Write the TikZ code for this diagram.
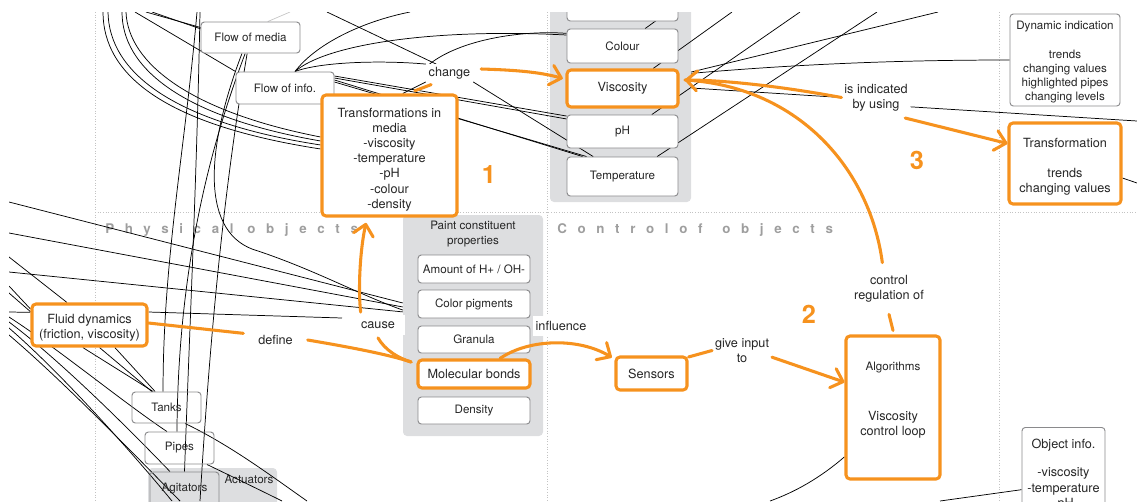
\documentclass[tikz,border=0pt]{standalone}
\usepackage{fontspec}
\setmainfont{TeX Gyre Heros}
\usetikzlibrary{arrows.meta}

\definecolor{hl}{RGB}{246,146,30}
\definecolor{boxline}{RGB}{138,138,140}
\definecolor{panelgrey}{RGB}{221,222,224}
\definecolor{ink}{RGB}{38,38,38}
\definecolor{gridgrey}{RGB}{195,195,195}
\definecolor{sectgrey}{RGB}{158,158,158}
\definecolor{faint}{RGB}{195,195,195}

\pgfdeclarelayer{bg}
\pgfdeclarelayer{links}
\pgfsetlayers{bg,links,main}

\newcommand{\smalltext}{\fontsize{8.7}{11.3}\selectfont}
\newcommand{\bigtext}{\fontsize{9.5}{11.4}\selectfont}

\tikzset{
  box/.style={draw=boxline, line width=0.7pt, rounded corners=2.5pt, fill=white,
    align=center, inner sep=0pt, text=ink},
  openbox/.style={box, fill=none},
  hbox/.style={draw=hl, line width=2.3pt, rounded corners=3pt, fill=white,
    align=center, inner sep=0pt, text=ink, font=\bigtext},
  boxtext/.style={align=center, inner sep=0pt, text=ink},
  panel/.style={fill=panelgrey, rounded corners=3pt, inner sep=0pt},
  lbl/.style={fill=white, align=center, inner sep=2pt, text=ink, font=\bigtext},
  link/.style={draw=black, line width=0.55pt},
  hand/.style={draw=hl, line width=2.3pt, line cap=round, line join=round},
  handarrow/.style={hand, -{Straight Barb[length=8pt, width=15pt, round]}},
  gridline/.style={draw=gridgrey, line width=0.6pt, dash pattern=on 0.8pt off 1.2pt},
  sect/.style={anchor=base west, inner sep=0pt, text=sectgrey,
    font=\fontsize{10}{12}\selectfont\bfseries\addfontfeature{LetterSpace=80}},
  num/.style={text=hl, inner sep=0pt, font=\fontsize{19}{19}\selectfont\bfseries}
}

\begin{document}
\begin{tikzpicture}[x=0.75pt, y=-0.75pt, font=\smalltext]
\useasboundingbox (0,0) rectangle (1137,501);

% ---------- background: grid, section titles, grey panels ----------
\begin{pgfonlayer}{bg}
\begin{scope}
\clip (9,12) rectangle (1137,501);
\draw[gridline] (95,12) -- (95,501);
\draw[gridline] (547,12) -- (547,501);
\draw[gridline] (999,12) -- (999,501);
\draw[gridline] (95,212) -- (1137,212);
\node[sect] (physA) at (105,233) {Physical};
\node[sect] (physB) at (247,233) {objects};
\node[sect] (ctrlA) at (557,233) {Control};
\node[sect] (ctrlB) at (679,233) {of};
\node[sect] (ctrlC) at (722,233) {objects};
\node[panel, minimum width=105.75pt, minimum height=159pt] (col) at (620.5,96) {};
\node[panel, minimum width=105pt, minimum height=165.75pt] (paint) at (473,325.5) {};
\node[text=ink, align=center] (painttitle) at (473,234) {Paint constituent\\properties};
\node[panel, minimum width=96.75pt, minimum height=36pt] (act) at (212.5,492) {};
\node[text=ink] (actlbl) at (249,479) {Actuators};
\end{scope}
\end{pgfonlayer}

\begin{scope}
\clip (9,12) rectangle (1137,501);

% ---------- plain concept boxes ----------
\node[box, minimum width=74.25pt, minimum height=23.25pt] (media) at (250.5,37.5) {Flow of media};
\node[box, minimum width=73.5pt, minimum height=24pt] (info) at (285,88) {Flow of info.};
\node[box, minimum width=83.25pt, minimum height=23.25pt] (topcell) at (622.5,5.5) {};
\node[box, minimum width=83.25pt, minimum height=25.5pt] (colour) at (622.5,46) {Colour};
\node[box, minimum width=83.25pt, minimum height=24.75pt] (ph) at (622.5,131.5) {pH};
\node[box, minimum width=83.25pt, minimum height=29.25pt] (temp) at (622.5,176.5) {Temperature};
\node[box, minimum width=84pt, minimum height=21pt] (hplus) at (474,269) {Amount of H+ / OH-};
\node[box, minimum width=84pt, minimum height=21pt] (pigm) at (474,304) {Color pigments};
\node[box, minimum width=84pt, minimum height=20.25pt] (granula) at (474,339.5) {Granula};
\node[box, minimum width=84pt, minimum height=20.25pt] (density) at (474,410.5) {Density};
\node[openbox, minimum width=51.75pt, minimum height=23.25pt] (tanks) at (166.5,407.5) {Tanks};
\node[openbox, minimum width=51.75pt, minimum height=24pt] (pipes) at (179.5,448) {Pipes};
\node[openbox, minimum width=51.75pt, minimum height=25.5pt] (agit) at (184.5,489) {Agitators};
\node[box, minimum width=82.5pt, minimum height=69pt] (dyn) at (1065,60) {};
\node[boxtext, font=\fontsize{8.7}{10.65}\selectfont] (dyntext) at (1065,62.5)
  {Dynamic indication\\[10.65pt]trends\\changing values\\highlighted pipes\\changing levels};
\node[box, anchor=north, minimum width=62.25pt, inner ysep=9pt, font=\bigtext] (objinfo) at (1063.5,427)
  {Object info.\\[9.6pt]-viscosity\\-temperature\\-pH};

% ---------- highlighted boxes ----------
\node[hbox, minimum width=101.25pt, minimum height=90.75pt] (trans) at (389.5,155.5) {};
\node[boxtext, font=\bigtext] (transtext) at (389.5,159.5)
  {Transformations in\\media\\-viscosity\\-temperature\\-pH\\-colour\\-density};
\node[hbox, minimum width=83.25pt, minimum height=27.75pt] (visc) at (622.5,88.5) {Viscosity};
\node[hbox, minimum width=84pt, minimum height=21pt] (molecular) at (474,374) {Molecular bonds};
\node[hbox, minimum width=86.25pt, minimum height=31.5pt] (fluid) at (89.5,325) {};
\node[boxtext, font=\bigtext] (fluidtext) at (89.5,327.5) {Fluid dynamics\\(friction, viscosity)};
\node[hbox, minimum width=53.25pt, minimum height=24.75pt] (sensors) at (651.5,373.5) {Sensors};
\node[hbox, minimum width=70.5pt, minimum height=107.25pt] (algo) at (893,407.5)
  {{\smalltext Algorithms}\\[26.1pt]Viscosity\\control loop\\[2.1pt]\mbox{}};
\node[hbox, minimum width=84pt, minimum height=60.75pt] (transf) at (1065,163.5) {};
\node[boxtext, font=\bigtext] (transftext) at (1065,166.5)
  {Transformation\\[11.25pt]trends\\changing values};

% ---------- link phrases ----------
\node[lbl] (change) at (449.5,73) {change};
\node[lbl] (isind) at (876,97.5) {is indicated\\by using};
\node[lbl] (ctrlreg) at (889,288.5) {control\\regulation of};
\node[lbl] (giveinput) at (742,350.5) {give input\\to};
\node[lbl] (define) at (275.5,340) {define};
\node[lbl, minimum width=40.5pt, minimum height=15pt] (cause) at (378,325) {cause};
\node[lbl, minimum height=15pt] (influence) at (561,326) {influence};

% ---------- step numbers ----------
\node[num] (n1) at (489,175) {1};
\node[num] (n2) at (809,314) {2};
\node[num] (n3) at (917,160) {3};

% ---------- highlighted path of the viscosity control story ----------
\draw[handarrow] ([xshift=6pt,yshift=3pt]change.east) .. controls (515,70) and (540,72) .. ([xshift=-2pt,yshift=7.5pt]visc.west);
\draw[hand] ([xshift=19pt,yshift=2pt]trans.north) -- ([xshift=4pt,yshift=-2pt]change.south west);
\draw[handarrow] ([xshift=-5pt,yshift=7pt]ctrlreg.north) .. controls (870,170) and (800,88) .. ([xshift=4pt,yshift=6.4pt]visc.east);
\draw[hand] (isind.west) .. controls (790,88) and (730,80) .. ([xshift=4pt,yshift=6.4pt]visc.east);
\draw[handarrow] ([xshift=-4pt,yshift=-3pt]isind.south east) -- ([yshift=15pt]transf.west);
\draw[hand] ([yshift=3pt]algo.north) -- ([yshift=-7pt]ctrlreg.south);
\draw[handarrow] ([yshift=-5pt]giveinput.east) -- ([yshift=19pt]algo.west);
\draw[hand] ([yshift=12.4pt]sensors.east) -- (giveinput.west);
\draw[handarrow] ([xshift=19.5pt]molecular.north) .. controls (530,338) and (580,338) .. ([xshift=-2pt,yshift=12pt]sensors.west);
\draw[hand] ([yshift=1.5pt]fluid.east) -- ([xshift=-9pt,yshift=5pt]define.west);
\draw[hand] ([xshift=9pt]define.east) .. controls (355,348) and (390,355) .. ([xshift=-4pt,yshift=9pt]molecular.west);
\draw[hand] ([yshift=-2pt]cause.south) .. controls (385,350) and (398,358) .. ([xshift=-4pt,yshift=9pt]molecular.west);
\draw[handarrow] ([xshift=-13pt,yshift=2pt]cause.north) .. controls (358,290) and (360,250) .. ([xshift=-17.6pt,yshift=-4pt]trans.south);
\end{scope}

% ---------- thin links of the wider concept map ----------
\begin{pgfonlayer}{links}
\begin{scope}
\clip (9,12) rectangle (1137,501);
\coordinate (top1) at (103,12);
\coordinate (top2) at (108,12);
\coordinate (top3) at (122,12);
\coordinate (top4) at (126,12);
\coordinate (top5) at (135,12);
\coordinate (top6) at (146,12);
\coordinate (top7) at (152,12);
\coordinate (top8) at (197,12);
\coordinate (top9) at (200,12);
\coordinate (top10) at (327,12);
\coordinate (top11) at (410,12);
\coordinate (top12) at (668,12);
\coordinate (top13) at (732,12);
\coordinate (top14) at (800,12);
\coordinate (top15) at (877,12);
\coordinate (top16) at (938,12);
\coordinate (top17) at (290,12);
\coordinate (left1) at (9,202);
\coordinate (left2) at (9,233);
\coordinate (left3) at (9,272);
\coordinate (left4) at (9,257);
\coordinate (left5) at (9,286);
\coordinate (left6) at (9,293);
\coordinate (left7) at (9,312);
\coordinate (left8) at (9,317);
\coordinate (left9) at (9,322);
\coordinate (left10) at (9,328);
\coordinate (left11) at (9,335);
\coordinate (bot1) at (200,501);
\coordinate (bot2) at (172,501);
\coordinate (bot3) at (180,501);
\coordinate (bot4) at (307,501);
\coordinate (bot5) at (282,501);
\coordinate (bot6) at (770,501);
\coordinate (bot7) at (940,501);
\coordinate (right1) at (1137,121);
\coordinate (right2) at (1137,183);
\coordinate (causeend) at (342,318);
\coordinate (fan) at ([xshift=7.5pt]info.north);

% sweeping bundle into the transformations box
\draw[link] (top1) .. controls (103,75) and (165,125) .. ([yshift=4.9pt]trans.west);
\draw[link] (top2) .. controls (109,72) and (172,122) .. ([yshift=7.9pt]trans.west);
\draw[link] (top3) .. controls (122,68) and (182,117) .. ([yshift=10.9pt]trans.west);
\draw[link] (top4) .. controls (128,64) and (192,112) .. ([yshift=13.9pt]trans.west);
\draw[link] (top5) -- (info.north west);
\draw[link] (top6) -- ([yshift=7.5pt]media.west);
\draw[link] (top7) -- ([yshift=6.5pt]media.west);

% near-vertical strands down to the plant objects
\draw[link] (top8) .. controls (185,150) and (163,260) .. ([xshift=-2.6pt]tanks.north);
\draw[link] (top9) .. controls (197,170) and (190,320) .. (agit.north);
\draw[link] ([xshift=-4pt]media.south) .. controls (205,160) and (178,280) .. ([xshift=-1.9pt]pipes.north);
\draw[link] ([xshift=-2.5pt]media.south) .. controls (228,165) and (212,300) .. (bot1);
\draw[link] ([xshift=-6.4pt]media.south) .. controls (205,150) and (200,235) .. (258,251)
  .. controls (315,270) and (360,295) .. ([yshift=11.6pt]paint.west);

% strands entering from the left
\draw[link] (left1) -- ([yshift=16.9pt]paint.west);
\draw[link] (left2) -- ([yshift=13.9pt]paint.west);
\draw[link] (left3) -- ([yshift=10.2pt]paint.west);
\draw[link] (left4) -- ([xshift=-16.9pt]fluid.north);
\draw[link] (left5) -- ([yshift=12pt]fluid.west);
\draw[link] (left6) -- ([yshift=10pt]fluid.west);
\draw[link] (left7) -- ([yshift=9.5pt]fluid.west);
\draw[link] (left8) .. controls (60,350) and (120,400) .. ([xshift=-9.4pt]pipes.north);
\draw[link] (left9) .. controls (60,360) and (130,430) .. ([xshift=-10.9pt]agit.north);
\draw[link] (left10) .. controls (60,372) and (130,450) .. (bot2);
\draw[link] (left11) .. controls (62,380) and (135,455) .. (bot3);
\draw[link] ([xshift=-5pt]fluid.south) -- ([xshift=-10pt]tanks.north);
\draw[link] ([xshift=7.5pt]fluid.south) -- ([xshift=-11pt]tanks.north);
\draw[link] ([xshift=19pt]fluid.south) -- ([xshift=-8.5pt]tanks.north);
\draw[link] ([yshift=9.75pt]fluid.east) -- (causeend);
\draw[link] ([xshift=13.9pt]tanks.south) .. controls (230,445) and (270,475) .. (bot4);
\draw[link] ([xshift=20.6pt]pipes.south) .. controls (235,478) and (260,490) .. (bot5);

% fan from the information flow
\draw[link] (fan) .. controls (315,45) and (360,22) .. (top11);
\draw[link] (fan) .. controls (325,45) and (430,28) .. ([yshift=8.25pt]colour.west);
\draw[link] (fan) .. controls (320,62) and (380,60) .. (change.north west);
\draw[link] (top10) -- ([xshift=-10pt]change.north);
\draw[link] ([xshift=-15pt]change.north) .. controls (460,40) and (520,30) .. ([yshift=9.5pt]colour.west);
\draw[link] ([yshift=9pt]info.east) -- ([yshift=11.6pt]ph.west);
\draw[link] ([yshift=7.5pt]info.east) -- ([yshift=9.4pt]ph.west);
\draw[link] ([yshift=6pt]info.east) -- ([xshift=-30pt]temp.north);
\draw[link] ([yshift=4.5pt]info.east) -- ([xshift=-27pt]temp.north);
\draw[link] (change.south east) -- ([xshift=-22pt]temp.north);
\draw[link] (change.south west) -- ([xshift=10pt]trans.north);
\draw[faint, line width=0.5pt] ([xshift=13pt]media.north) -- (top17);

% strands leaving the property column
\draw[link] ([xshift=17pt]colour.north) -- (top12);
\draw[link] ([xshift=23pt]visc.north) -- (top13);
\draw[link] ([xshift=22pt]ph.north) -- (top14);
\draw[link] ([xshift=26pt]temp.north) -- (top15);
\draw[link] ([yshift=18pt]col.east) -- (top16);
\draw[link] ([yshift=17pt]col.east) .. controls (800,64) and (900,60) .. (dyn.west);
\draw[link] ([yshift=6pt]col.east) -- (isind.west);
\draw[link] ([yshift=-7pt]isind.east) -- (right1);
\draw[link] ([yshift=-10.9pt]transf.east) -- (right2);
\draw[link] ([yshift=-37pt]algo.west) .. controls (820,478) and (795,492) .. (bot6);
\draw[link] ([yshift=-47pt]objinfo.north west) -- (bot7);
\end{scope}
\end{pgfonlayer}
\end{tikzpicture}
\end{document}
